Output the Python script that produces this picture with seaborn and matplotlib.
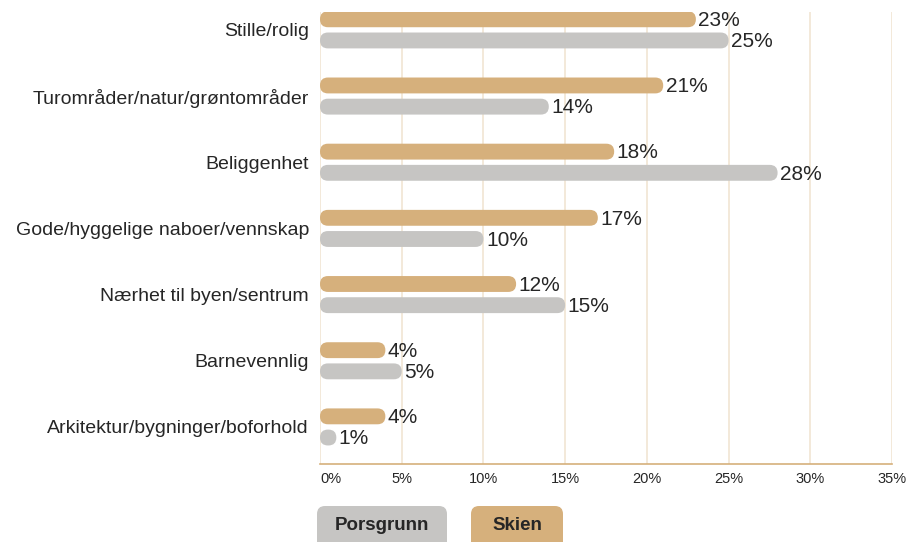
import matplotlib
matplotlib.use("Agg")
import matplotlib.pyplot as plt
import matplotlib.transforms as mtrans
from matplotlib.patches import FancyBboxPatch
import seaborn as sns
import pandas as pd

categories = [
    "Stille/rolig",
    "Turområder/natur/grøntområder",
    "Beliggenhet",
    "Gode/hyggelige naboer/vennskap",
    "Nærhet til byen/sentrum",
    "Barnevennlig",
    "Arkitektur/bygninger/boforhold",
]
skien = [23, 21, 18, 17, 12, 4, 4]
porsgrunn = [25, 14, 28, 10, 15, 5, 1]
series_names = ["Skien", "Porsgrunn"]
x_ticks = [0, 5, 10, 15, 20, 25, 30, 35]
x_tick_labels = ["0%", "5%", "10%", "15%", "20%", "25%", "30%", "35%"]

TAN = "#D6B07C"
GRAY = "#C6C5C3"
GRID = "#F0E3D0"
TXT = "#262626"

df = pd.DataFrame({
    "cat": categories * 2,
    "value": skien + porsgrunn,
    "city": ["Skien"] * len(categories) + ["Porsgrunn"] * len(categories),
})

sns.set_theme(style="white")
plt.rcParams["font.family"] = ["Liberation Sans", "DejaVu Sans"]

W, H = 913, 542
fig = plt.figure(figsize=(W / 100, H / 100), dpi=100)
ax_left, ax_right, ax_top, ax_bottom = 320, 892, 12, 464
ax = fig.add_axes([ax_left / W, 1 - ax_bottom / H, (ax_right - ax_left) / W, (ax_bottom - ax_top) / H])

sns.barplot(data=df, y="cat", x="value", hue="city", hue_order=series_names,
            palette={"Skien": TAN, "Porsgrunn": GRAY}, order=categories,
            width=0.64, gap=0.25, orient="h", legend=False, ax=ax, zorder=3,
            saturation=1)

ylo, yhi = 6.56, -0.27
ax.set_xlim(0, 35)
ax.set_ylim(ylo, yhi)

# px per unit
px_x = (ax_right - ax_left) / 35.0
px_y = (ax_bottom - ax_top) / (ylo - yhi)

patches = list(ax.patches)
for p in patches:
    x, y, w, h = p.get_x(), p.get_y(), p.get_width(), p.get_height()
    fc = p.get_facecolor()
    p.remove()
    r_px = min(h * px_y / 2, w * px_x / 2)
    rx = r_px / px_x
    ry = r_px / px_y
    fb = FancyBboxPatch((x, y), w, h,
                        boxstyle=f"round,pad=0,rounding_size={rx}",
                        mutation_aspect=ry / rx,
                        facecolor=fc, edgecolor="none", zorder=3)
    ax.add_patch(fb)
    ax.text(x + w + 0.15, y + h / 2 + 0.02, f"{w:g}%", ha="left", va="center",
            fontsize=15, color=TXT, zorder=4)

ax.set_xticks(x_ticks)
ax.set_xticklabels(x_tick_labels, fontsize=10.5, color=TXT)
ax.get_xticklabels()[0].set_ha("left")
ax.tick_params(axis="x", length=0, pad=6)
ax.tick_params(axis="y", length=0, pad=8, labelsize=14, labelcolor=TXT)
ax.set_xlabel("")
ax.set_ylabel("")
ax.grid(axis="x", color=GRID, linewidth=1.1, zorder=0)
ax.grid(axis="y", visible=False)
for s in ["top", "right", "left"]:
    ax.spines[s].set_visible(False)
ax.spines["bottom"].set_color(TAN)
ax.spines["bottom"].set_linewidth(1.2)
ax.set_facecolor("white")

# legend buttons (pixel coords)
ident = mtrans.IdentityTransform()
legend_items = [("Porsgrunn", GRAY, 317, 447), ("Skien", TAN, 471, 563)]
for name, col, x0, x1 in legend_items:
    top, bot = 506, 560
    box = FancyBboxPatch((x0, H - bot), x1 - x0, bot - top,
                         boxstyle="round,pad=0,rounding_size=8",
                         facecolor=col, edgecolor="none", transform=ident)
    fig.patches.append(box)
    box.set_figure(fig)
    fig.text((x0 + x1) / 2 / W, 1 - 525 / H, name, ha="center", va="center",
             fontsize=13.5, fontweight="bold", color=TXT)

fig.savefig("out.png", dpi=100, facecolor="white")
